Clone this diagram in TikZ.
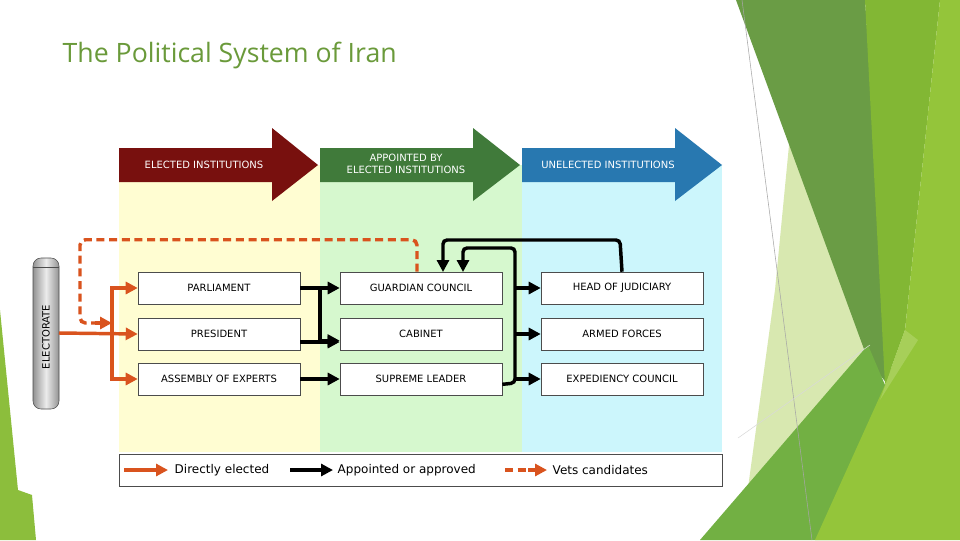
\documentclass[tikz,border=0pt]{standalone}
\usepackage{fontspec}
\setmainfont{DejaVu Sans}
\newfontfamily\titlefont{Open Sans}
\usetikzlibrary{arrows.meta,shapes.geometric}
\definecolor{ored}{HTML}{D9531E}
\definecolor{tgreen}{HTML}{6A9A3A}
\tikzset{
  box/.style={draw=black!70,fill=white,minimum width=121.5pt,minimum height=24pt,inner sep=0pt,font=\fontsize{7.5}{8}\selectfont},
  el/.style={ored,line width=2.6pt,-{Triangle[length=9pt,width=9pt]}},
  ap/.style={black,line width=2.6pt,-{Triangle[length=9pt,width=9pt]}},
  vet/.style={ored,line width=2.6pt,dash pattern=on 6pt off 3.5pt},
  hdr/.style={font=\fontsize{7.5}{8.5}\selectfont,text=white,align=center},
  lg/.style={font=\fontsize{9}{10}\selectfont,anchor=west}
}
\begin{document}
\begin{tikzpicture}[x=0.75pt,y=-0.75pt]
\useasboundingbox (0,0) rectangle (960,540);
\fill[white] (0,0) rectangle (960,540);
% decoration right
\fill[color={rgb,255:red,216;green,232;blue,176}] (790,135)--(868,348)--(745,510)--(775,290)--cycle;
\fill[color={rgb,255:red,106;green,156;blue,69}] (736,0)--(865,0)--(892,390)--(868,360)--cycle;
\fill[color={rgb,255:red,130;green,183;blue,52}] (865,0)--(940,0)--(905,330)--(885,385)--cycle;
\fill[color={rgb,255:red,114;green,176;blue,67}] (700,540)--(868,345)--(885,385)--(870,540)--cycle;
\fill[color={rgb,255:red,148;green,197;blue,58}] (940,0)--(960,0)--(960,540)--(815,540)--(885,385)--(905,330)--cycle;
\fill[color={rgb,255:red,180;green,214;blue,110},opacity=0.6] (905,330)--(918,340)--(880,400)--cycle;
\draw[gray!70,line width=0.4pt] (742,0)--(812,540);
\draw[gray!30,line width=0.4pt] (738,438)--(870,345);
% decoration left
\fill[color={rgb,255:red,140;green,190;blue,60}] (0,310)--(18,490)--(32,495)--(36,540)--(0,540)--cycle;
% title
\node[anchor=west,text=tgreen,font=\titlefont\fontsize{20}{22}\selectfont] (title) at (58,55) {The Political System of Iran};
% bands
\fill[color={rgb,255:red,255;green,253;blue,210}] (119,165) rectangle (320,452);
\fill[color={rgb,255:red,214;green,248;blue,206}] (320,165) rectangle (522,452);
\fill[color={rgb,255:red,204;green,246;blue,252}] (522,165) rectangle (722,452);
% header arrows
\fill[color={rgb,255:red,120;green,16;blue,14}] (119,148)--(272,148)--(272,128)--(318,165)--(272,201)--(272,182)--(119,182)--cycle;
\fill[color={rgb,255:red,64;green,122;blue,58}] (320,148)--(473,148)--(473,128)--(520,165)--(473,201)--(473,182)--(320,182)--cycle;
\fill[color={rgb,255:red,40;green,120;blue,176}] (522,148)--(675,148)--(675,128)--(722,165)--(675,201)--(675,182)--(522,182)--cycle;
\node[hdr] (h1) at (204,165) {ELECTED INSTITUTIONS};
\node[hdr] (h2) at (406,164) {APPOINTED BY\\ELECTED INSTITUTIONS};
\node[hdr] (h3) at (608,165) {UNELECTED INSTITUTIONS};
% boxes
\node[box] (parl) at (219,288) {PARLIAMENT};
\node[box] (pres) at (219,334) {PRESIDENT};
\node[box] (ass) at (219,379) {ASSEMBLY OF EXPERTS};
\node[box] (gc) at (421,288) {GUARDIAN COUNCIL};
\node[box] (cab) at (421,334) {CABINET};
\node[box] (sl) at (421,379) {SUPREME LEADER};
\node[box] (hj) at (622,288) {HEAD OF JUDICIARY};
\node[box] (af) at (622,334) {ARMED FORCES};
\node[box] (ec) at (622,379) {EXPEDIENCY COUNCIL};
% electorate
\shade[left color=gray!85,right color=gray!85,middle color=gray!15,rounded corners=6pt,draw=black!70] (33,258) rectangle (59,409);
\draw[black!70] (33,267)--(59,267);
\node[rotate=90,font=\fontsize{7.5}{8}\selectfont] (elec) at (46,337) {ELECTORATE};
\coordinate (eo) at (59,333);
% orange direct
\draw[el] (eo) -- (pres.west);
\draw[el] (112,333) |- (parl.west);
\draw[el] (112,333) |- (ass.west);
% dashed vets
\coordinate (gcv) at ([xshift=-3pt]gc.north);
\draw[vet,rounded corners=4pt] (gcv) -- ++(0,-32) -| (80,323) -- (98,323);
\draw[ored,-{Triangle[length=9pt,width=9pt]},line width=2.6pt] (95,323)--(112,323);
% black appointed
\draw[ap] (parl.east) -- (gc.west);
\draw[ap] (320,288) |- ([yshift=-5pt]cab.west);
\draw[ap] ([yshift=-6pt]pres.east) -- ([yshift=-6pt]cab.west);
\draw[ap] (ass.east) -- (sl.west);
\draw[ap,rounded corners=3pt] ([yshift=-4pt]sl.east) -- (515,383) -- (515,248) -- (463,248) -- (463,272);
\draw[ap] (515,288) -- (hj.west);
\draw[ap] (515,334) -- (af.west);
\draw[ap] (515,379) -- (ec.west);
\draw[ap,rounded corners=3pt] (hj.north) -- (620,240) -- (443,240) -- (443,272);
% legend
\node[draw=black!70,fill=white,minimum width=452pt,minimum height=24pt,inner sep=0pt] (leg) at (420.5,470) {};
\draw[el] (124,470) -- (168,470);
\node[lg] (l1) at (170,470) {Directly elected};
\draw[ap] (290,470) -- (333,470);
\node[lg] (l2) at (333,470) {Appointed or approved};
\draw[vet] (505,470) -- (530,470);
\draw[ored,-{Triangle[length=9pt,width=9pt]},line width=2.6pt] (528,470)--(547,470);
\node[lg] (l3) at (548,470) {Vets candidates};
\end{tikzpicture}
\end{document}
